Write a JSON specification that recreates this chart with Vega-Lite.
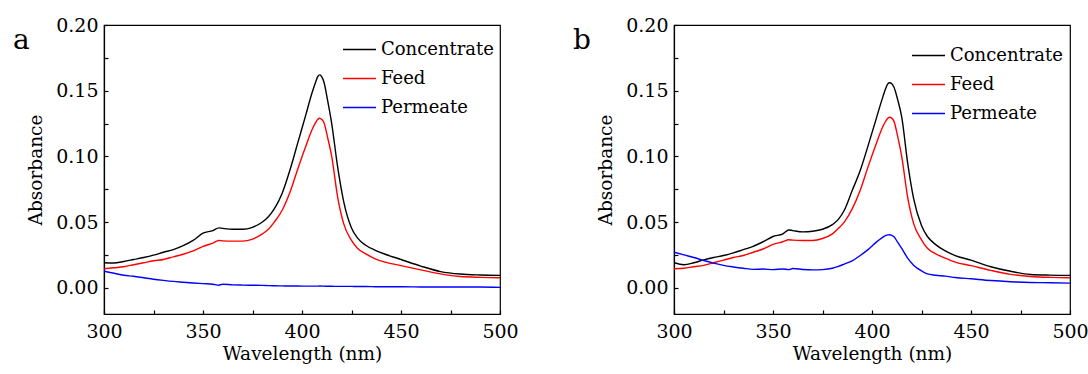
{
"$schema": "https://vega.github.io/schema/vega-lite/v6.json",
"background": "white",
"padding": {"left": 12, "top": 15, "right": 0, "bottom": 2},
"spacing": 53,
"config": {
  "view": {"stroke": "#000000", "strokeWidth": 1.2},
  "font": "DejaVu Serif",
  "axis": {"grid": false, "domain": true, "ticks": true, "domainColor": "#000000", "tickColor": "#000000", "labelColor": "black", "titleColor": "black", "labelFont": "DejaVu Serif", "titleFont": "DejaVu Serif", "labelFontSize": 19, "titleFontSize": 18.5, "titleFontWeight": "normal", "tickWidth": 1.2, "domainWidth": 1.2, "labelOverlap": false, "labelFlush": false},
  "title": {"font": "DejaVu Serif", "fontSize": 28, "fontWeight": "normal", "color": "black"}
},
"resolve": {"scale": {"color": "independent"}, "legend": {"color": "independent"}},
"datasets": {
"a": [
{"w":300,"s":"Concentrate","v":0.019},{"w":305,"s":"Concentrate","v":0.0188},{"w":310,"s":"Concentrate","v":0.020},{"w":315,"s":"Concentrate","v":0.0215},{"w":320,"s":"Concentrate","v":0.023},{"w":325,"s":"Concentrate","v":0.0248},{"w":330,"s":"Concentrate","v":0.027},{"w":335,"s":"Concentrate","v":0.029},{"w":340,"s":"Concentrate","v":0.032},{"w":345,"s":"Concentrate","v":0.036},{"w":350,"s":"Concentrate","v":0.0415},{"w":355,"s":"Concentrate","v":0.0435},{"w":358,"s":"Concentrate","v":0.0456},{"w":360,"s":"Concentrate","v":0.0452},{"w":365,"s":"Concentrate","v":0.0445},{"w":370,"s":"Concentrate","v":0.0445},{"w":375,"s":"Concentrate","v":0.046},{"w":380,"s":"Concentrate","v":0.050},{"w":383,"s":"Concentrate","v":0.054},{"w":386,"s":"Concentrate","v":0.060},{"w":390,"s":"Concentrate","v":0.072},{"w":394,"s":"Concentrate","v":0.090},{"w":398,"s":"Concentrate","v":0.111},{"w":402,"s":"Concentrate","v":0.132},{"w":405,"s":"Concentrate","v":0.148},{"w":407,"s":"Concentrate","v":0.157},{"w":408,"s":"Concentrate","v":0.1608},{"w":409,"s":"Concentrate","v":0.162},{"w":410,"s":"Concentrate","v":0.1605},{"w":411,"s":"Concentrate","v":0.157},{"w":413,"s":"Concentrate","v":0.142},{"w":415,"s":"Concentrate","v":0.125},{"w":418,"s":"Concentrate","v":0.092},{"w":421,"s":"Concentrate","v":0.066},{"w":425,"s":"Concentrate","v":0.0455},{"w":428,"s":"Concentrate","v":0.038},{"w":432,"s":"Concentrate","v":0.0325},{"w":437,"s":"Concentrate","v":0.0285},{"w":442,"s":"Concentrate","v":0.0255},{"w":450,"s":"Concentrate","v":0.0215},{"w":460,"s":"Concentrate","v":0.0165},{"w":470,"s":"Concentrate","v":0.0123},{"w":480,"s":"Concentrate","v":0.0104},{"w":490,"s":"Concentrate","v":0.0097},{"w":500,"s":"Concentrate","v":0.0094},
{"w":300,"s":"Feed","v":0.0144},{"w":305,"s":"Feed","v":0.0152},{"w":310,"s":"Feed","v":0.016},{"w":315,"s":"Feed","v":0.0175},{"w":320,"s":"Feed","v":0.019},{"w":325,"s":"Feed","v":0.0205},{"w":330,"s":"Feed","v":0.0215},{"w":335,"s":"Feed","v":0.0235},{"w":340,"s":"Feed","v":0.0255},{"w":345,"s":"Feed","v":0.028},{"w":350,"s":"Feed","v":0.0315},{"w":355,"s":"Feed","v":0.034},{"w":358,"s":"Feed","v":0.036},{"w":360,"s":"Feed","v":0.0357},{"w":365,"s":"Feed","v":0.0355},{"w":370,"s":"Feed","v":0.0355},{"w":375,"s":"Feed","v":0.037},{"w":380,"s":"Feed","v":0.041},{"w":383,"s":"Feed","v":0.0445},{"w":386,"s":"Feed","v":0.050},{"w":390,"s":"Feed","v":0.059},{"w":394,"s":"Feed","v":0.073},{"w":398,"s":"Feed","v":0.091},{"w":402,"s":"Feed","v":0.108},{"w":405,"s":"Feed","v":0.120},{"w":407,"s":"Feed","v":0.126},{"w":408,"s":"Feed","v":0.1282},{"w":409,"s":"Feed","v":0.129},{"w":410,"s":"Feed","v":0.128},{"w":411,"s":"Feed","v":0.126},{"w":413,"s":"Feed","v":0.114},{"w":415,"s":"Feed","v":0.100},{"w":418,"s":"Feed","v":0.069},{"w":421,"s":"Feed","v":0.049},{"w":425,"s":"Feed","v":0.036},{"w":428,"s":"Feed","v":0.030},{"w":432,"s":"Feed","v":0.026},{"w":437,"s":"Feed","v":0.022},{"w":442,"s":"Feed","v":0.0195},{"w":450,"s":"Feed","v":0.0168},{"w":460,"s":"Feed","v":0.0136},{"w":470,"s":"Feed","v":0.0105},{"w":480,"s":"Feed","v":0.0085},{"w":490,"s":"Feed","v":0.0079},{"w":500,"s":"Feed","v":0.0076},
{"w":300,"s":"Permeate","v":0.0125},{"w":305,"s":"Permeate","v":0.011},{"w":310,"s":"Permeate","v":0.0095},{"w":315,"s":"Permeate","v":0.0087},{"w":320,"s":"Permeate","v":0.0076},{"w":325,"s":"Permeate","v":0.0065},{"w":330,"s":"Permeate","v":0.0056},{"w":335,"s":"Permeate","v":0.0048},{"w":340,"s":"Permeate","v":0.0042},{"w":345,"s":"Permeate","v":0.0036},{"w":350,"s":"Permeate","v":0.0031},{"w":355,"s":"Permeate","v":0.0027},{"w":358,"s":"Permeate","v":0.0019},{"w":360,"s":"Permeate","v":0.0027},{"w":365,"s":"Permeate","v":0.0022},{"w":370,"s":"Permeate","v":0.002},{"w":375,"s":"Permeate","v":0.0019},{"w":380,"s":"Permeate","v":0.0018},{"w":383,"s":"Permeate","v":0.0016},{"w":386,"s":"Permeate","v":0.0015},{"w":390,"s":"Permeate","v":0.0014},{"w":394,"s":"Permeate","v":0.0013},{"w":398,"s":"Permeate","v":0.0013},{"w":402,"s":"Permeate","v":0.0012},{"w":405,"s":"Permeate","v":0.0012},{"w":407,"s":"Permeate","v":0.0012},{"w":409,"s":"Permeate","v":0.0013},{"w":411,"s":"Permeate","v":0.0012},{"w":413,"s":"Permeate","v":0.0011},{"w":415,"s":"Permeate","v":0.0011},{"w":418,"s":"Permeate","v":0.001},{"w":421,"s":"Permeate","v":0.001},{"w":425,"s":"Permeate","v":0.001},{"w":428,"s":"Permeate","v":0.0009},{"w":432,"s":"Permeate","v":0.0009},{"w":437,"s":"Permeate","v":0.0008},{"w":442,"s":"Permeate","v":0.0007},{"w":450,"s":"Permeate","v":0.0007},{"w":460,"s":"Permeate","v":0.0006},{"w":470,"s":"Permeate","v":0.0005},{"w":480,"s":"Permeate","v":0.0006},{"w":490,"s":"Permeate","v":0.0006},{"w":500,"s":"Permeate","v":0.0003}
],
"b": [
{"w":300,"s":"Concentrate","v":0.019},{"w":305,"s":"Concentrate","v":0.0175},{"w":310,"s":"Concentrate","v":0.019},{"w":315,"s":"Concentrate","v":0.0212},{"w":320,"s":"Concentrate","v":0.023},{"w":325,"s":"Concentrate","v":0.0245},{"w":330,"s":"Concentrate","v":0.0265},{"w":335,"s":"Concentrate","v":0.029},{"w":340,"s":"Concentrate","v":0.0315},{"w":345,"s":"Concentrate","v":0.035},{"w":350,"s":"Concentrate","v":0.039},{"w":355,"s":"Concentrate","v":0.041},{"w":358,"s":"Concentrate","v":0.044},{"w":360,"s":"Concentrate","v":0.0435},{"w":365,"s":"Concentrate","v":0.0425},{"w":370,"s":"Concentrate","v":0.043},{"w":375,"s":"Concentrate","v":0.0445},{"w":380,"s":"Concentrate","v":0.048},{"w":383,"s":"Concentrate","v":0.052},{"w":386,"s":"Concentrate","v":0.059},{"w":390,"s":"Concentrate","v":0.074},{"w":394,"s":"Concentrate","v":0.089},{"w":398,"s":"Concentrate","v":0.108},{"w":402,"s":"Concentrate","v":0.128},{"w":405,"s":"Concentrate","v":0.143},{"w":407,"s":"Concentrate","v":0.152},{"w":408,"s":"Concentrate","v":0.1553},{"w":409,"s":"Concentrate","v":0.156},{"w":410,"s":"Concentrate","v":0.1552},{"w":411,"s":"Concentrate","v":0.153},{"w":413,"s":"Concentrate","v":0.143},{"w":415,"s":"Concentrate","v":0.130},{"w":418,"s":"Concentrate","v":0.095},{"w":421,"s":"Concentrate","v":0.068},{"w":425,"s":"Concentrate","v":0.0474},{"w":428,"s":"Concentrate","v":0.039},{"w":432,"s":"Concentrate","v":0.033},{"w":437,"s":"Concentrate","v":0.028},{"w":442,"s":"Concentrate","v":0.0245},{"w":450,"s":"Concentrate","v":0.021},{"w":460,"s":"Concentrate","v":0.016},{"w":470,"s":"Concentrate","v":0.0125},{"w":480,"s":"Concentrate","v":0.0101},{"w":490,"s":"Concentrate","v":0.0096},{"w":500,"s":"Concentrate","v":0.0094},
{"w":300,"s":"Feed","v":0.0144},{"w":305,"s":"Feed","v":0.0148},{"w":310,"s":"Feed","v":0.016},{"w":315,"s":"Feed","v":0.017},{"w":320,"s":"Feed","v":0.019},{"w":325,"s":"Feed","v":0.021},{"w":330,"s":"Feed","v":0.023},{"w":335,"s":"Feed","v":0.0245},{"w":340,"s":"Feed","v":0.027},{"w":345,"s":"Feed","v":0.0295},{"w":350,"s":"Feed","v":0.033},{"w":355,"s":"Feed","v":0.035},{"w":358,"s":"Feed","v":0.0365},{"w":360,"s":"Feed","v":0.0362},{"w":365,"s":"Feed","v":0.036},{"w":370,"s":"Feed","v":0.036},{"w":375,"s":"Feed","v":0.0375},{"w":380,"s":"Feed","v":0.041},{"w":383,"s":"Feed","v":0.045},{"w":386,"s":"Feed","v":0.050},{"w":390,"s":"Feed","v":0.060},{"w":394,"s":"Feed","v":0.074},{"w":398,"s":"Feed","v":0.092},{"w":402,"s":"Feed","v":0.109},{"w":405,"s":"Feed","v":0.121},{"w":407,"s":"Feed","v":0.127},{"w":408,"s":"Feed","v":0.129},{"w":409,"s":"Feed","v":0.1298},{"w":410,"s":"Feed","v":0.129},{"w":411,"s":"Feed","v":0.127},{"w":413,"s":"Feed","v":0.115},{"w":415,"s":"Feed","v":0.100},{"w":418,"s":"Feed","v":0.069},{"w":421,"s":"Feed","v":0.049},{"w":425,"s":"Feed","v":0.0365},{"w":428,"s":"Feed","v":0.030},{"w":432,"s":"Feed","v":0.026},{"w":437,"s":"Feed","v":0.0225},{"w":442,"s":"Feed","v":0.0195},{"w":450,"s":"Feed","v":0.0168},{"w":460,"s":"Feed","v":0.0132},{"w":470,"s":"Feed","v":0.0102},{"w":480,"s":"Feed","v":0.0086},{"w":490,"s":"Feed","v":0.0079},{"w":500,"s":"Feed","v":0.0076},
{"w":300,"s":"Permeate","v":0.027},{"w":305,"s":"Permeate","v":0.025},{"w":310,"s":"Permeate","v":0.023},{"w":315,"s":"Permeate","v":0.0207},{"w":320,"s":"Permeate","v":0.0187},{"w":325,"s":"Permeate","v":0.017},{"w":330,"s":"Permeate","v":0.0158},{"w":335,"s":"Permeate","v":0.0148},{"w":340,"s":"Permeate","v":0.014},{"w":345,"s":"Permeate","v":0.0142},{"w":350,"s":"Permeate","v":0.0138},{"w":355,"s":"Permeate","v":0.0143},{"w":358,"s":"Permeate","v":0.0138},{"w":360,"s":"Permeate","v":0.0146},{"w":365,"s":"Permeate","v":0.0139},{"w":370,"s":"Permeate","v":0.0136},{"w":375,"s":"Permeate","v":0.0138},{"w":380,"s":"Permeate","v":0.0148},{"w":383,"s":"Permeate","v":0.0162},{"w":386,"s":"Permeate","v":0.018},{"w":390,"s":"Permeate","v":0.0205},{"w":394,"s":"Permeate","v":0.0245},{"w":398,"s":"Permeate","v":0.029},{"w":402,"s":"Permeate","v":0.0345},{"w":405,"s":"Permeate","v":0.038},{"w":407,"s":"Permeate","v":0.0398},{"w":408,"s":"Permeate","v":0.0402},{"w":409,"s":"Permeate","v":0.0403},{"w":410,"s":"Permeate","v":0.0399},{"w":411,"s":"Permeate","v":0.039},{"w":413,"s":"Permeate","v":0.0345},{"w":415,"s":"Permeate","v":0.030},{"w":418,"s":"Permeate","v":0.0225},{"w":421,"s":"Permeate","v":0.0172},{"w":425,"s":"Permeate","v":0.0128},{"w":428,"s":"Permeate","v":0.0105},{"w":432,"s":"Permeate","v":0.0095},{"w":437,"s":"Permeate","v":0.0088},{"w":442,"s":"Permeate","v":0.0078},{"w":450,"s":"Permeate","v":0.0068},{"w":460,"s":"Permeate","v":0.0055},{"w":470,"s":"Permeate","v":0.0046},{"w":480,"s":"Permeate","v":0.004},{"w":490,"s":"Permeate","v":0.0038},{"w":500,"s":"Permeate","v":0.0035}
]
},
"hconcat": [
{
  "title": {"text": "a", "anchor": "start", "frame": "group", "orient": "top", "offset": -44, "baseline": "alphabetic", "dx": -91, "dy": 17},
  "width": 396, "height": 289,
  "data": {"name": "a"},
  "mark": {"type": "line", "strokeWidth": 1.4, "clip": true, "interpolate": "monotone"},
  "encoding": {
    "x": {"field": "w", "type": "quantitative", "scale": {"domain": [300, 500], "nice": false, "zero": false},
          "axis": {"orient": "bottom", "title": "Wavelength (nm)", "values": [300,325,350,375,400,425,450,475,500], "labelExpr": "datum.value % 50 === 0 ? datum.label : ''", "format": "d", "tickSize": -4, "labelPadding": 12, "titlePadding": 3}},
    "y": {"field": "v", "type": "quantitative", "scale": {"domain": [-0.02, 0.2], "nice": false, "zero": false},
          "axis": {"orient": "left", "title": "Absorbance", "values": [0,0.025,0.05,0.075,0.1,0.125,0.15,0.175,0.2], "labelExpr": "abs(datum.value*20 - round(datum.value*20)) < 0.001 ? datum.label : ''", "format": ".2f", "tickSize": -4, "labelPadding": 10, "titlePadding": 10}},
    "color": {"field": "s", "type": "nominal", "scale": {"domain": ["Concentrate", "Feed", "Permeate"], "range": ["#000000", "#ff0000", "#0000ff"]},
              "legend": {"orient": "none", "legendX": 238, "legendY": 7, "title": null, "symbolType": "stroke", "symbolSize": 1089, "symbolStrokeWidth": 1.5, "labelFont": "DejaVu Serif", "labelFontSize": 18, "labelColor": "black", "labelOffset": 4, "rowPadding": 2, "padding": 0, "labelLimit": 300}}
  }
},
{
  "title": {"text": "b", "anchor": "start", "frame": "group", "orient": "top", "offset": -44, "baseline": "alphabetic", "dx": -101, "dy": 17},
  "width": 396, "height": 289,
  "data": {"name": "b"},
  "mark": {"type": "line", "strokeWidth": 1.4, "clip": true, "interpolate": "monotone"},
  "encoding": {
    "x": {"field": "w", "type": "quantitative", "scale": {"domain": [300, 500], "nice": false, "zero": false},
          "axis": {"orient": "bottom", "title": "Wavelength (nm)", "values": [300,325,350,375,400,425,450,475,500], "labelExpr": "datum.value % 50 === 0 ? datum.label : ''", "format": "d", "tickSize": -4, "labelPadding": 12, "titlePadding": 3}},
    "y": {"field": "v", "type": "quantitative", "scale": {"domain": [-0.02, 0.2], "nice": false, "zero": false},
          "axis": {"orient": "left", "title": "Absorbance", "values": [0,0.025,0.05,0.075,0.1,0.125,0.15,0.175,0.2], "labelExpr": "abs(datum.value*20 - round(datum.value*20)) < 0.001 ? datum.label : ''", "format": ".2f", "tickSize": -4, "labelPadding": 10, "titlePadding": 10}},
    "color": {"field": "s", "type": "nominal", "scale": {"domain": ["Concentrate", "Feed", "Permeate"], "range": ["#000000", "#ff0000", "#0000ff"]},
              "legend": {"orient": "none", "legendX": 237, "legendY": 13, "title": null, "symbolType": "stroke", "symbolSize": 1089, "symbolStrokeWidth": 1.5, "labelFont": "DejaVu Serif", "labelFontSize": 18, "labelColor": "black", "labelOffset": 4, "rowPadding": 2, "padding": 0, "labelLimit": 300}}
  }
}
]
}
